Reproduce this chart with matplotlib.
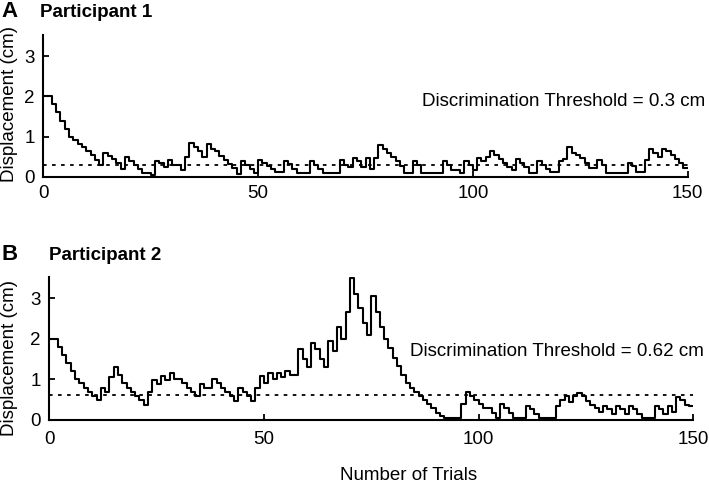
import numpy as np
import matplotlib
matplotlib.use("Agg")
import matplotlib.pyplot as plt

plt.rcParams['font.family'] = ['Liberation Sans', 'DejaVu Sans']

# displacement (cm) per trial
p1_disp = [2.0, 2.0, 1.8, 1.6, 1.4, 1.2, 1.0, 0.92, 0.82, 0.73,
           0.63, 0.54, 0.42, 0.28, 0.6, 0.52, 0.43, 0.33, 0.2, 0.48,
           0.4, 0.3, 0.2, 0.1, 0.1, 0.05, 0.4, 0.33, 0.25, 0.42,
           0.3, 0.3, 0.17, 0.48, 0.85, 0.73, 0.63, 0.48, 0.82, 0.7,
           0.63, 0.52, 0.42, 0.32, 0.21, 0.07, 0.4, 0.3, 0.18, 0.08,
           0.42, 0.33, 0.27, 0.18, 0.12, 0.12, 0.4, 0.32, 0.2, 0.1,
           0.1, 0.1, 0.4, 0.3, 0.2, 0.08, 0.08, 0.08, 0.08, 0.42,
           0.3, 0.25, 0.46, 0.38, 0.25, 0.46, 0.2, 0.46, 0.8, 0.68,
           0.58, 0.48, 0.38, 0.27, 0.08, 0.08, 0.4, 0.3, 0.1, 0.1,
           0.1, 0.1, 0.1, 0.38, 0.3, 0.17, 0.17, 0.08, 0.4, 0.3,
           0.17, 0.46, 0.4, 0.48, 0.63, 0.55, 0.43, 0.33, 0.25, 0.17,
           0.43, 0.33, 0.25, 0.1, 0.1, 0.38, 0.3, 0.2, 0.12, 0.12,
           0.38, 0.43, 0.73, 0.6, 0.55, 0.46, 0.33, 0.21, 0.21, 0.42,
           0.3, 0.08, 0.08, 0.08, 0.08, 0.08, 0.35, 0.27, 0.12, 0.12,
           0.42, 0.7, 0.6, 0.48, 0.7, 0.63, 0.55, 0.43, 0.33, 0.21]

p2_disp = [2.0, 2.0, 1.8, 1.6, 1.4, 1.2, 1.0, 0.9, 0.8, 0.7,
           0.6, 0.5, 0.8, 0.7, 1.05, 1.3, 1.1, 0.9, 0.8, 0.7,
           0.6, 0.5, 0.38, 0.7, 0.98, 0.88, 1.08, 0.98, 1.16, 1.0,
           1.0, 0.9, 0.8, 0.69, 0.59, 0.88, 0.8, 0.8, 1.0, 0.9,
           0.8, 0.7, 0.6, 0.47, 0.8, 0.7, 0.6, 0.47, 0.8, 1.08,
           0.9, 1.15, 1.0, 1.15, 1.05, 1.2, 1.1, 1.1, 1.74, 1.5,
           1.3, 1.9, 1.75, 1.5, 1.3, 1.95, 1.7, 2.3, 2.0, 2.65,
           3.5, 3.1, 2.75, 2.4, 2.1, 3.05, 2.65, 2.3, 2.0, 1.78,
           1.53, 1.33, 1.12, 0.92, 0.8, 0.69, 0.59, 0.49, 0.39, 0.29,
           0.18, 0.1, 0.06, 0.06, 0.06, 0.06, 0.39, 0.69, 0.59, 0.5,
           0.4, 0.3, 0.3, 0.18, 0.06, 0.39, 0.29, 0.18, 0.06, 0.06,
           0.06, 0.34, 0.26, 0.16, 0.06, 0.06, 0.06, 0.06, 0.34, 0.5,
           0.59, 0.45, 0.6, 0.67, 0.58, 0.47, 0.38, 0.3, 0.2, 0.34,
           0.26, 0.16, 0.34, 0.26, 0.14, 0.34, 0.26, 0.16, 0.06, 0.06,
           0.06, 0.34, 0.26, 0.14, 0.34, 0.2, 0.57, 0.5, 0.38, 0.34]

thresholds = [0.3, 0.62]
panel_letters = ['A', 'B']
panel_titles = ['Participant 1', 'Participant 2']
x_ticks = [0, 50, 100, 150]
y_ticks = [0, 1, 2, 3]

W, H = 709, 484
fig = plt.figure(figsize=(W / 100, H / 100), dpi=100)

def px(x0, y0, x1, y1):
    # pixel box (left, top, right, bottom) -> figure fraction rect
    return [x0 / W, 1 - y1 / H, (x1 - x0) / W, (y1 - y0) / H]

boxes = [px(43.3, 35, 687.7, 176.7), px(49.3, 276.7, 693.3, 420)]
tick_pads = [6, 8]
text_y = [1.77, 1.57]
text_x = [154.1, 152.5]
title_pos = [(1.7, 17.3, 40, 17.3), (1.7, 260, 49.3, 260)]
ylabel_pos = [(10, 104), (10, 358)]

for i, disp in enumerate([p1_disp, p2_disp]):
    ax = fig.add_axes(boxes[i])
    trials = np.arange(len(disp) + 1)
    yy = list(disp) + [disp[-1]]
    ax.plot(trials, yy, drawstyle='steps-post', color='black', lw=1.5)
    ax.axhline(thresholds[i], color='black', lw=1.3, linestyle=(0, (2, 3)))

    ax.set_xlim(0, 150)
    ax.set_ylim(0, 3.53)
    ax.set_xticks(x_ticks)
    ax.set_yticks(y_ticks)
    for s in ['top', 'right']:
        ax.spines[s].set_visible(False)
    for s in ['left', 'bottom']:
        ax.spines[s].set_linewidth(1.5)
    ax.tick_params(direction='in', length=4.5, width=1.3, labelsize=13.5)
    ax.tick_params(axis='x', pad=tick_pads[i])
    ax.tick_params(axis='y', pad=6)

    ax.text(text_x[i], text_y[i],
            'Discrimination Threshold = %s cm' % thresholds[i],
            ha='right', va='baseline', fontsize=13.5, clip_on=False)

    lx, ly, tx, ty = title_pos[i]
    fig.text(lx / W, 1 - ly / H, panel_letters[i], fontsize=16,
             fontweight='bold', ha='left', va='baseline')
    fig.text(tx / W, 1 - ty / H, panel_titles[i], fontsize=13.5,
             fontweight='bold', ha='left', va='baseline')

    yx, yy_ = ylabel_pos[i]
    fig.text(yx / W, 1 - yy_ / H, 'Displacement (cm)', rotation=90,
             fontsize=13.5, ha='center', va='center')

fig.text(408.7 / W, 1 - 475.5 / H, 'Number of Trials', fontsize=13.5,
         ha='center', va='center')

fig.savefig('out.png', dpi=100)
